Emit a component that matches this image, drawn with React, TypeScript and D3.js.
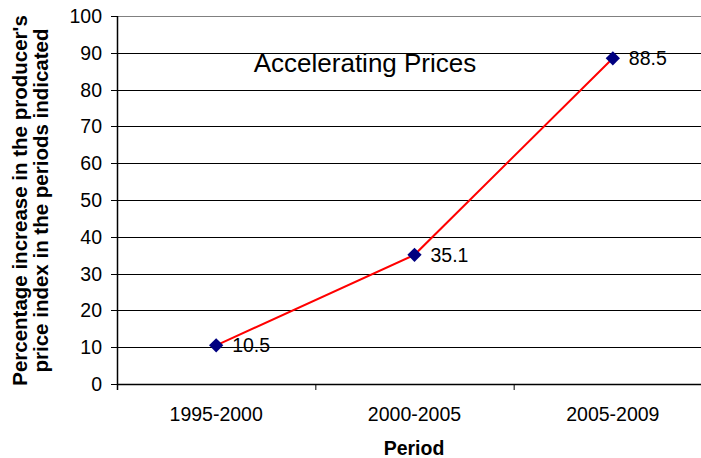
import React from 'react';
import * as d3 from 'd3';

const periods = ['1995-2000', '2000-2005', '2005-2009'];
const increases = [10.5, 35.1, 88.5];
const yTicks = [0, 10, 20, 30, 40, 50, 60, 70, 80, 90, 100];

const W = 701;
const H = 458;
const margin = { top: 16, right: -11, bottom: 74, left: 117 };
const font = '"Liberation Sans", Arial, sans-serif';

export default function App() {
  const innerW = W - margin.left - margin.right;
  const innerH = H - margin.top - margin.bottom;

  const x = d3.scaleBand().domain(periods).range([0, innerW]);
  const y = d3.scaleLinear().domain([0, 100]).range([innerH, 0]);
  const cx = (p: string) => (x(p) as number) + x.bandwidth() / 2;

  const pts = periods.map((p, i) => ({ p, v: increases[i] }));
  const line = d3.line<{ p: string; v: number }>()
    .x(d => cx(d.p))
    .y(d => y(d.v));

  const diamond = d3.symbol().type(d3.symbolDiamond2).size(130)();

  return (
    <svg width={W} height={H} style={{ position: 'absolute', left: 0, top: 0, fontFamily: font }}>
      <g transform={`translate(${margin.left},${margin.top})`}>
        {/* gridlines + y ticks */}
        {yTicks.map(t => (
          <g key={t} transform={`translate(0,${Math.round(y(t)) + 0.5})`}>
            <line x1={0} x2={innerW} stroke={t === 100 ? '#808080' : '#000'} strokeWidth={1} />
            <line x1={-6} x2={0} stroke="#000" />
            <text x={-15} dy="0.35em" textAnchor="end" fontSize={19.5}>{t}</text>
          </g>
        ))}
        {/* axes */}
        <line x1={0.5} x2={0.5} y1={0} y2={innerH + 6} stroke="#000" strokeWidth={1.5} />
        <line x1={0} x2={innerW} y1={innerH + 0.5} y2={innerH + 0.5} stroke="#000" strokeWidth={1.5} />
        {periods.map(p => (
          <g key={p}>
            <line x1={(x(p) as number) + x.bandwidth() + 0.5} x2={(x(p) as number) + x.bandwidth() + 0.5}
              y1={innerH} y2={innerH + 6} stroke="#000" />
            <text x={cx(p)} y={innerH + 37} textAnchor="middle" fontSize={19.5}>{p}</text>
          </g>
        ))}
        {/* series */}
        <path d={line(pts) || ''} fill="none" stroke="#ff0000" strokeWidth={2} />
        {pts.map(d => (
          <g key={d.p}>
            <path d={diamond || ''} transform={`translate(${cx(d.p)},${y(d.v)})`} fill="#000080" />
            <text x={cx(d.p) + 16} y={y(d.v)} dy="0.35em" fontSize={19.5}>{d.v}</text>
          </g>
        ))}
      </g>
      <text x={365} y={72} textAnchor="middle" fontSize={26}>Accelerating Prices</text>
      <text x={414} y={455} textAnchor="middle" fontSize={19.5} fontWeight="bold">Period</text>
      <g transform={`translate(0,200.5) rotate(-90)`} fontSize={20.5} fontWeight="bold" textAnchor="middle">
        <text x={0} y={26.5}>Percentage increase in the producer's</text>
        <text x={0} y={48}>price index in the periods indicated</text>
      </g>
    </svg>
  );
}
